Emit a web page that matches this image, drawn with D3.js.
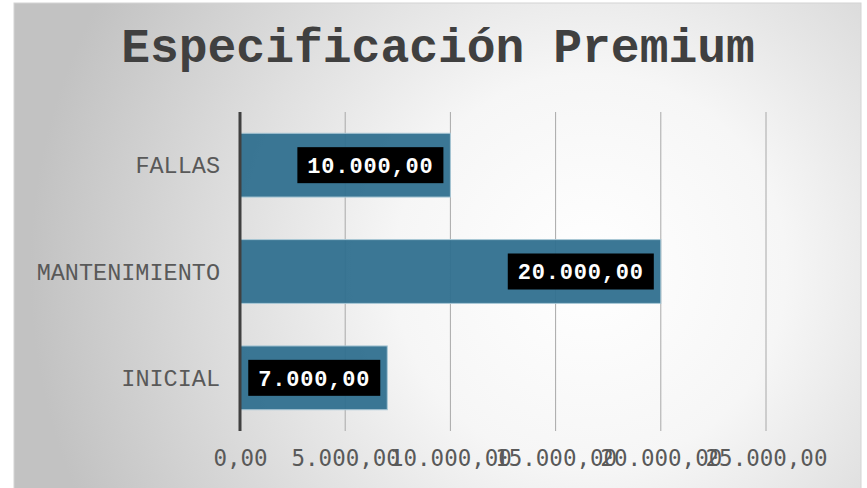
<!DOCTYPE html>
<html><head><meta charset="utf-8">
<script src="https://cdn.jsdelivr.net/npm/d3@7"></script>
<style>html,body{margin:0;padding:0;background:#fff;}svg{display:block;}</style>
</head><body>
<script>
const categories = ["FALLAS", "MANTENIMIENTO", "INICIAL"];
const values = [10000, 20000, 7000];
const xTicks = [0, 5000, 10000, 15000, 20000, 25000];
const title = "Especificación Premium";

const W = 867, H = 488;
const fmt = v => {
  const s = d3.format(",.2f")(v);
  return s.replace(/,/g, "#").replace(/\./g, ",").replace(/#/g, ".");
};

const svg = d3.select("body").append("svg").attr("width", W).attr("height", H);
const defs = svg.append("defs");
const rg = defs.append("radialGradient").attr("id", "bg")
  .attr("gradientUnits", "userSpaceOnUse")
  .attr("cx", 590).attr("cy", 270).attr("r", 560);
rg.append("stop").attr("offset", "0").attr("stop-color", "#ffffff");
rg.append("stop").attr("offset", "0.35").attr("stop-color", "#f6f6f6");
rg.append("stop").attr("offset", "1").attr("stop-color", "#c2c2c2");

svg.append("rect").attr("x", 14).attr("y", 3).attr("width", 847).attr("height", 490)
  .attr("fill", "url(#bg)").attr("stroke", "#d4d4d4").attr("stroke-width", 1);

const x = d3.scaleLinear().domain([0, 25000]).range([240, 766]);
const y = d3.scaleBand().domain(categories).range([112, 431]).paddingInner(0.4).paddingOuter(0.2);

// title
svg.append("text").attr("x", 438).attr("y", 62).attr("text-anchor", "middle")
  .attr("font-family", "'Courier New','Liberation Mono',monospace").attr("font-weight", "bold")
  .attr("font-size", 48).attr("fill", "#404040").text(title);

// gridlines
svg.append("g").selectAll("line").data(xTicks.slice(1)).join("line")
  .attr("x1", d => x(d)).attr("x2", d => x(d)).attr("y1", 112).attr("y2", 431)
  .attr("stroke", "#a8a8a8").attr("stroke-width", 1);

// bars
svg.append("g").selectAll("rect").data(values).join("rect")
  .attr("x", x(0)).attr("y", (d, i) => y(categories[i]))
  .attr("width", d => x(d) - x(0)).attr("height", y.bandwidth())
  .attr("fill", "#2f6f8e").attr("fill-opacity", 0.94)
  .attr("stroke", "#a9c8d6").attr("stroke-width", 1);

// axis line
svg.append("line").attr("x1", x(0)).attr("x2", x(0)).attr("y1", 112).attr("y2", 431)
  .attr("stroke", "#404040").attr("stroke-width", 3);

// y labels
const ya = svg.append("g").attr("transform", `translate(${x(0) - 20},0)`)
  .call(d3.axisLeft(y).tickSize(0).tickPadding(0));
ya.select(".domain").remove();
ya.selectAll("text").attr("font-family", "'Courier New','Liberation Mono',monospace")
  .attr("font-size", 23.5).attr("fill", "#595959").attr("dy", "0.35em");

// x labels
const xa = svg.append("g").attr("transform", "translate(0,431)")
  .call(d3.axisBottom(x).tickValues(xTicks).tickFormat(fmt).tickSize(0).tickPadding(0));
xa.select(".domain").remove();
xa.selectAll("text").attr("font-family", "'DejaVu Sans Mono',monospace")
  .attr("font-size", 22.5).attr("fill", "#595959").attr("dy", 0).attr("y", 35);

// data labels
const lg = svg.append("g").selectAll("g").data(values).join("g")
  .attr("transform", (d, i) => `translate(${x(d) - 7},${y(categories[i]) + y.bandwidth() / 2})`);
lg.each(function(d) {
  const g = d3.select(this);
  const t = g.append("text").attr("text-anchor", "end").attr("x", -10).attr("dy", "0.36em")
    .attr("font-family", "'Liberation Mono','DejaVu Sans Mono',monospace").attr("font-weight", "bold")
    .attr("font-size", 22).attr("letter-spacing", 0.8).attr("fill", "#ffffff").text(fmt(d));
  const bb = t.node().getBBox();
  g.insert("rect", "text").attr("x", -(bb.width + 20)).attr("y", -18)
    .attr("width", bb.width + 20).attr("height", 36).attr("fill", "#000");
});
</script>
</body></html>
